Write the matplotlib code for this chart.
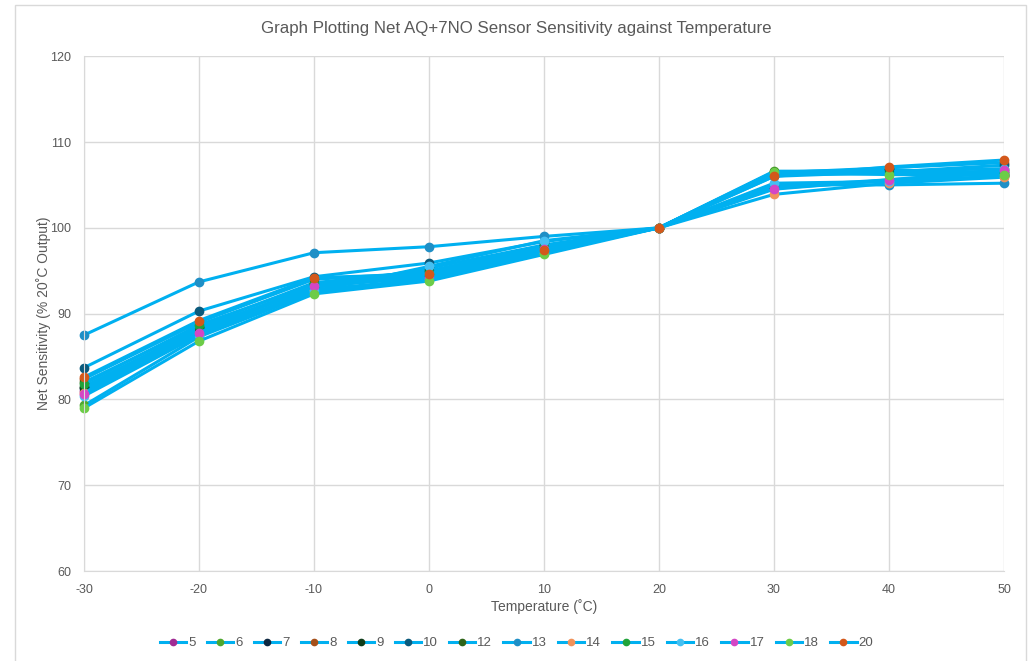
import numpy as np
import matplotlib.pyplot as plt
from matplotlib.patches import Rectangle

plt.rcParams['font.family'] = ['Liberation Sans', 'DejaVu Sans']
plt.rcParams['axes.unicode_minus'] = False

# Temperatures (x axis)
temps = [-30, -20, -10, 0, 10, 20, 30, 40, 50]

# Net sensitivity (% of 20 C output) for each sensor
s5 = [81.0, 88.0, 93.3, 94.4, 97.3, 100, 104.8, 105.6, 106.4]
s6 = [79.3, 87.3, 92.5, 94.0, 97.2, 100, 106.6, 106.6, 106.9]
s7 = [81.3, 88.1, 93.0, 95.3, 98.0, 100, 104.6, 105.5, 106.0]
s8 = [82.4, 89.0, 94.0, 94.8, 97.6, 100, 106.4, 107.0, 107.6]
s9 = [81.5, 88.3, 93.1, 94.5, 97.6, 100, 106.5, 106.8, 106.2]
s10 = [83.7, 90.3, 94.3, 95.9, 98.4, 100, 106.0, 106.5, 107.3]
s12 = [82.0, 88.5, 93.6, 95.0, 97.8, 100, 106.3, 106.4, 106.6]
s13 = [87.5, 93.7, 97.1, 97.8, 99.0, 100, 105.0, 105.0, 105.2]
s14 = [80.8, 87.6, 92.8, 94.0, 97.1, 100, 103.9, 105.2, 105.9]
s15 = [81.8, 88.7, 93.4, 94.7, 97.8, 100, 106.2, 106.3, 106.4]
s16 = [80.4, 87.5, 92.6, 95.5, 98.5, 100, 105.2, 105.4, 106.8]
s17 = [80.6, 87.8, 93.2, 94.2, 97.5, 100, 104.5, 105.6, 106.7]
s18 = [79.0, 86.8, 92.3, 93.8, 96.9, 100, 106.5, 106.2, 106.1]
s20 = [82.6, 89.2, 94.2, 94.6, 97.4, 100, 106.0, 107.1, 107.9]

labels = ['5', '6', '7', '8', '9', '10', '12', '13', '14', '15', '16', '17', '18', '20']
series = [s5, s6, s7, s8, s9, s10, s12, s13, s14, s15, s16, s17, s18, s20]
marker_colors = ['#A02B93', '#4EA72E', '#0E2841', '#A5501B', '#0F3D1A', '#0B5A7C',
                 '#2E6419', '#1F8FC6', '#F1925A', '#21A33A', '#45C0F2', '#D446C5',
                 '#6DCC48', '#D3581B']
line_color = '#00B0F0'
grey = '#595959'

fig = plt.figure(figsize=(10.33, 6.61), dpi=100)
ax = fig.add_axes([0.0813, 0.136, 0.8906, 0.779])

# outer chart border
fig.patches.append(Rectangle((15/1033, -0.01), (1026-15)/1033, 1 - 5/661 + 0.01,
                             transform=fig.transFigure, fill=False,
                             edgecolor='#D9D9D9', linewidth=1))

for lab, vals, mc in zip(labels, series, marker_colors):
    ax.plot(temps, vals, color=line_color, linewidth=2.2, marker='o',
            markersize=6, markerfacecolor=mc, markeredgecolor=mc, label=lab,
            clip_on=False)

ax.set_xlim(-30, 50)
ax.set_ylim(60, 120)
ax.set_xticks(np.arange(-30, 51, 10))
ax.set_yticks(np.arange(60, 121, 10))
ax.grid(True, color='#D9D9D9', linewidth=1)
ax.set_axisbelow(True)
for side in ['top', 'right']:
    ax.spines[side].set_visible(False)
for side in ['left', 'bottom']:
    ax.spines[side].set_color('#D9D9D9')
ax.tick_params(length=0, colors=grey, labelsize=9, pad=9)

ax.set_xlabel('Temperature (˚C)', color=grey, fontsize=10)
ax.set_ylabel('Net Sensitivity (% 20˚C Output)', color=grey, fontsize=10)
ax.yaxis.set_label_coords(-0.036, 0.5)
ax.xaxis.set_label_coords(0.5, -0.054)
fig.text(0.5, 1 - 28/661, 'Graph Plotting Net AQ+7NO Sensor Sensitivity against Temperature',
         ha='center', va='center', fontsize=12.2, color=grey)

leg = fig.legend(loc='center', bbox_to_anchor=(0.5, 1 - 643/661), ncol=14, frameon=False,
                 fontsize=9.5, handlelength=2.0, columnspacing=0.85, handletextpad=0.15,
                 markerscale=0.75)
for t in leg.get_texts():
    t.set_color(grey)

fig.savefig('out.png', dpi=100)
